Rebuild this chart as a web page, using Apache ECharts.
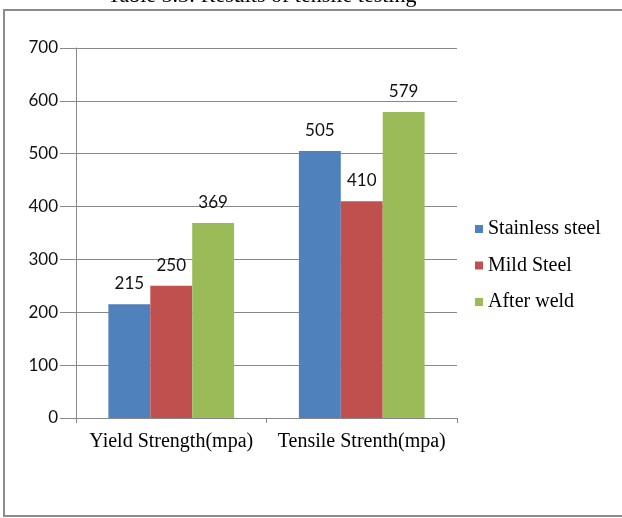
<!DOCTYPE html>
<html><head><meta charset="utf-8">
<script src="https://cdn.jsdelivr.net/npm/echarts@6/dist/echarts.min.js"></script>
<style>html,body{margin:0;padding:0;background:#fff}#c{width:622px;height:518px}</style>
</head><body><div id="c"></div>
<script>
const categories = ['Yield Strength(mpa)', 'Tensile Strenth(mpa)'];
const seriesNames = ['Stainless steel', 'Mild Steel', 'After weld'];
const stainless = [215, 505];
const mild = [250, 410];
const afterWeld = [369, 579];
const colors = ['#4F81BD', '#C0504D', '#9BBB59'];
const serif = 'Liberation Serif';
const sans = 'Lato';
const chart = echarts.init(document.getElementById('c'));
const values = [stainless, mild, afterWeld];
chart.setOption({
  animation: false,
  graphic: [
    { type: 'rect', shape: { x: 4, y: 10, width: 640, height: 506 },
      style: { fill: 'none', stroke: '#8c8c8c', lineWidth: 2 }, z: -1 },
    { type: 'text', x: 262, y: 7,
      style: { text: 'Table 5.3: Results of tensile testing', font: '22px "Liberation Serif"',
        fill: '#000', textAlign: 'center', textVerticalAlign: 'bottom' }, z: 10 }
  ],
  grid: { left: 76, right: 165, top: 48, bottom: 100 },
  legend: { orient: 'vertical', left: 475, top: 219, padding: 0, itemGap: 16.5, itemWidth: 8, itemHeight: 8,
    icon: 'rect', textStyle: { fontFamily: serif, fontSize: 20, lineHeight: 20, color: '#000' } },
  xAxis: { type: 'category', data: categories,
    axisLine: { lineStyle: { color: '#888' } },
    axisTick: { show: true, length: 5, lineStyle: { color: '#888' } },
    axisLabel: { fontFamily: serif, fontSize: 20, color: '#000', margin: 14, interval: 0, hideOverlap: false } },
  yAxis: { type: 'value', min: 0, max: 700, interval: 100,
    axisLine: { show: true, lineStyle: { color: '#888' } },
    axisTick: { show: true, length: 16, lineStyle: { color: '#888' } },
    splitLine: { lineStyle: { color: '#888' } },
    axisLabel: { fontFamily: sans, fontSize: 17, color: '#111', margin: 18 } },
  series: seriesNames.map((n, i) => ({
    name: n, type: 'bar', data: values[i], barGap: '0%', barCategoryGap: '34%',
    itemStyle: { color: colors[i] },
    label: { show: true, position: 'top', distance: 12, fontFamily: sans, fontSize: 17, color: '#111' }
  }))
});
</script></body></html>
